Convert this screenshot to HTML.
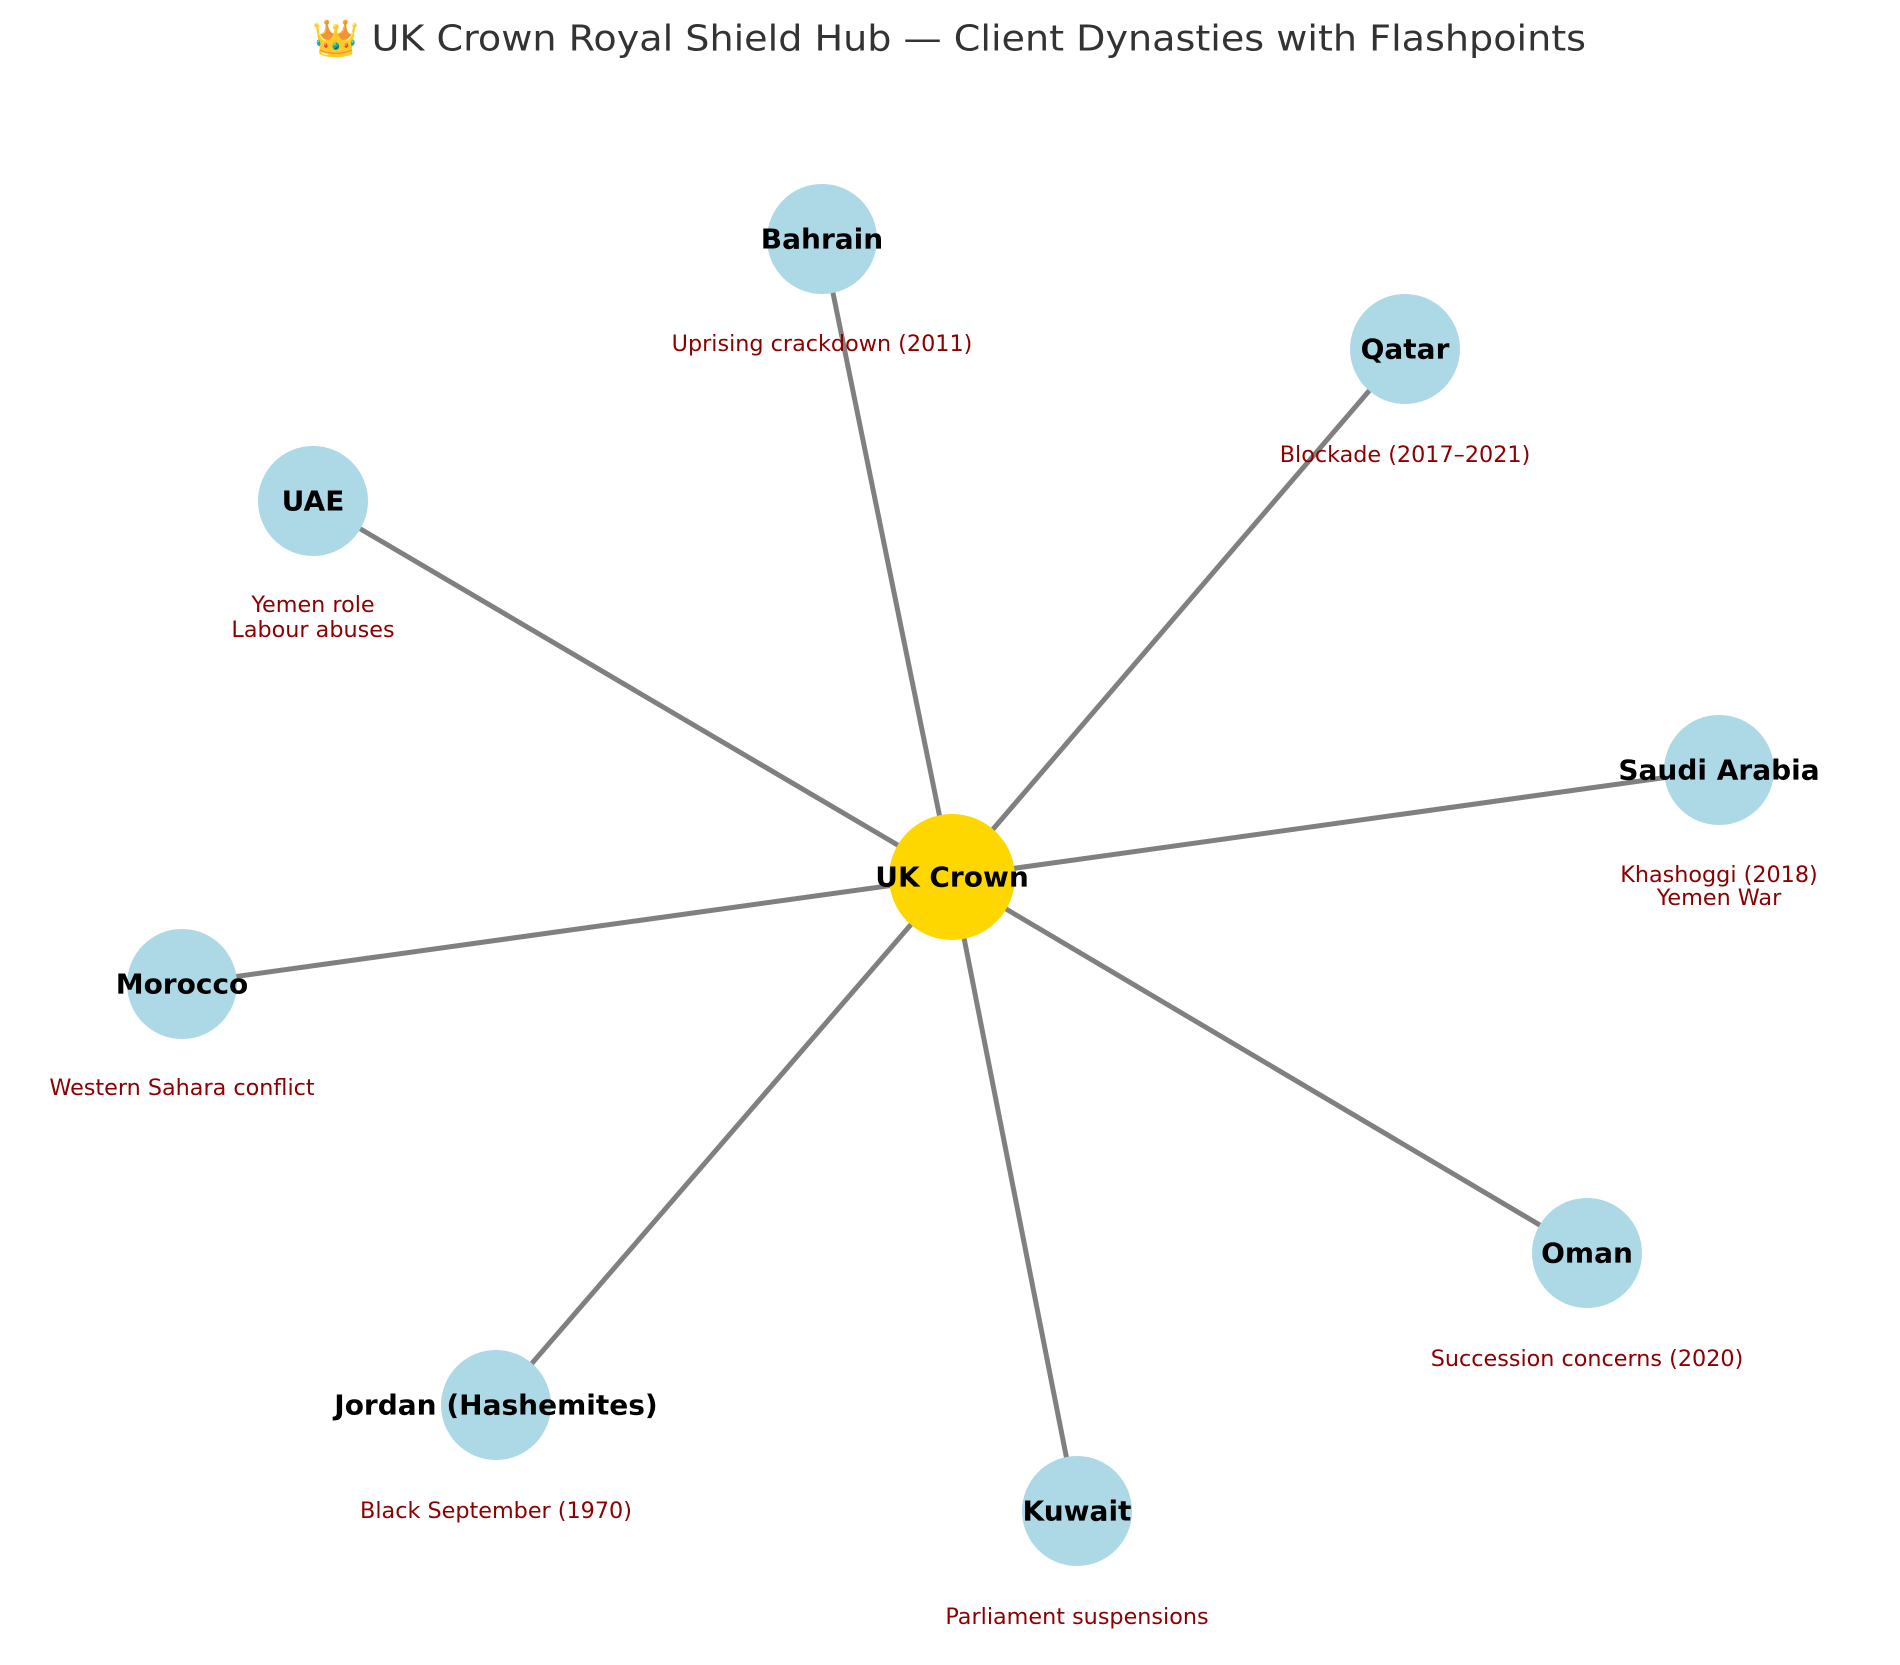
<!DOCTYPE html>
<html><head><meta charset="utf-8"><style>
html,body{margin:0;padding:0;background:#fff;}
svg{display:block;}
.n{font-family:"DejaVu Sans","Liberation Sans",sans-serif;font-weight:bold;font-size:28px;fill:#000;text-anchor:middle;dominant-baseline:central;}
.l{font-family:"DejaVu Sans","Liberation Sans",sans-serif;font-size:22.3px;fill:#8b0000;text-anchor:middle;dominant-baseline:central;}
.t{font-family:"DejaVu Sans","Liberation Sans",sans-serif;font-size:36px;fill:#333;text-anchor:middle;dominant-baseline:central;}
</style></head><body>
<svg width="1900" height="1665" viewBox="0 0 1900 1665" xmlns="http://www.w3.org/2000/svg">
<rect width="1900" height="1665" fill="#fff"/>
<text class="t" x="949" y="39" textLength="1274" lengthAdjust="spacingAndGlyphs">👑 UK Crown Royal Shield Hub — Client Dynasties with Flashpoints</text>
<g stroke="#808080" stroke-width="5" stroke-linecap="round">
<line x1="952" y1="877" x2="822" y2="239"/>
<line x1="952" y1="877" x2="1405" y2="349"/>
<line x1="952" y1="877" x2="313" y2="501"/>
<line x1="952" y1="877" x2="1719" y2="770"/>
<line x1="952" y1="877" x2="182" y2="984"/>
<line x1="952" y1="877" x2="1587" y2="1253"/>
<line x1="952" y1="877" x2="496" y2="1405"/>
<line x1="952" y1="877" x2="1077" y2="1511"/>
</g>
<g fill="#add8e6">
<circle cx="822" cy="239" r="55"/>
<circle cx="1405" cy="349" r="55"/>
<circle cx="313" cy="501" r="55"/>
<circle cx="1719" cy="770" r="55"/>
<circle cx="182" cy="984" r="55"/>
<circle cx="1587" cy="1253" r="55"/>
<circle cx="496" cy="1405" r="55"/>
<circle cx="1077" cy="1511" r="55"/>
</g>
<circle cx="952" cy="877" r="63" fill="#ffd700"/>
<text class="n" x="952" y="877">UK Crown</text>
<text class="n" x="822" y="239">Bahrain</text>
<text class="n" x="1405" y="349">Qatar</text>
<text class="n" x="313" y="501">UAE</text>
<text class="n" x="1719" y="770">Saudi Arabia</text>
<text class="n" x="182" y="984">Morocco</text>
<text class="n" x="1587" y="1253">Oman</text>
<text class="n" x="496" y="1405">Jordan (Hashemites)</text>
<text class="n" x="1077" y="1511">Kuwait</text>
<text class="l" x="822" y="344">Uprising crackdown (2011)</text>
<text class="l" x="1405" y="455">Blockade (2017–2021)</text>
<text class="l" x="313" y="605">Yemen role</text>
<text class="l" x="313" y="630">Labour abuses</text>
<text class="l" x="1719" y="875">Khashoggi (2018)</text>
<text class="l" x="1719" y="898">Yemen War</text>
<text class="l" x="182" y="1088">Western Sahara conflict</text>
<text class="l" x="1587" y="1359">Succession concerns (2020)</text>
<text class="l" x="496" y="1511">Black September (1970)</text>
<text class="l" x="1077" y="1617">Parliament suspensions</text>
</svg>
</body></html>
